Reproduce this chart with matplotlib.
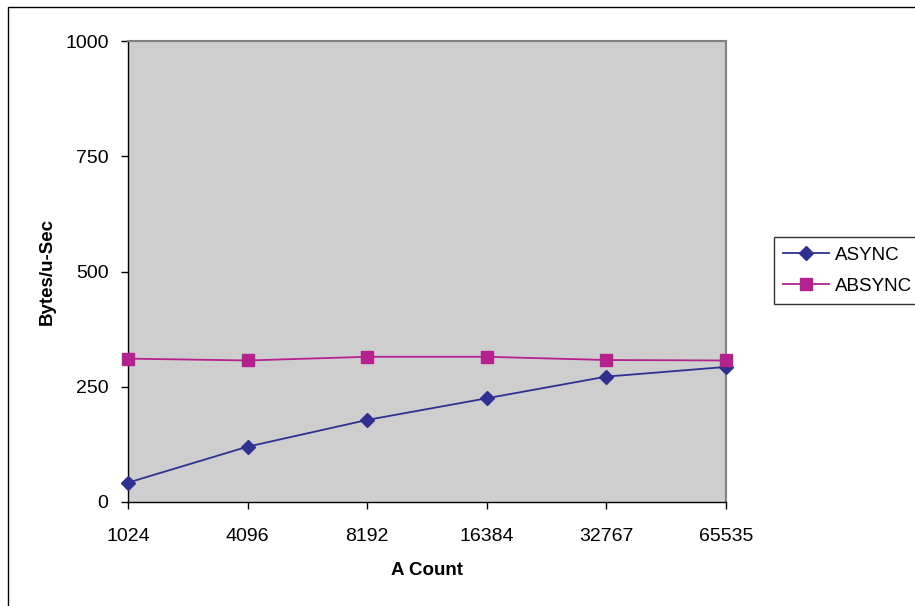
import matplotlib
matplotlib.use("Agg")
import matplotlib.pyplot as plt
from matplotlib.patches import Rectangle
from matplotlib.lines import Line2D

plt.rcParams['font.family'] = ['Liberation Sans', 'DejaVu Sans']

categories = ["1024", "4096", "8192", "16384", "32767", "65535"]
async_vals = [42, 120, 178, 225, 272, 293]
absync_vals = [311, 307, 315, 315, 308, 307]
y_ticks = [0, 250, 500, 750, 1000]

W, H = 915, 606
fig = plt.figure(figsize=(W / 100, H / 100), dpi=100)

# outer chart border
fig.patches.append(Rectangle((8 / W, -0.1), 1.2, 1 - 7 / H + 0.1,
                             transform=fig.transFigure, fill=False,
                             edgecolor='black', linewidth=1.0, zorder=0))

ax = fig.add_axes([128 / W, 1 - 502 / H, (726 - 128) / W, (502 - 41) / H])
ax.set_facecolor('#CECECE')

x = list(range(len(categories)))
ax.plot(x, async_vals, color='#2E3192', linewidth=1.3, marker='D',
        markersize=7, label='ASYNC', clip_on=False, zorder=3)
ax.plot(x, absync_vals, color='#B5218E', linewidth=1.3, marker='s',
        markersize=8, label='ABSYNC', clip_on=False, zorder=3)

ax.set_xlim(0, len(categories) - 1)
ax.set_ylim(0, 1000)
ax.set_xticks(x)
ax.set_xticklabels(categories)
ax.set_yticks(y_ticks)

ax.tick_params(axis='both', direction='out', length=5, width=1.0,
               colors='black', labelsize=14)
ax.tick_params(axis='y', pad=9)
ax.tick_params(axis='x', pad=14)

for side in ('left', 'bottom'):
    ax.spines[side].set_color('black')
    ax.spines[side].set_linewidth(1.0)
for side in ('top', 'right'):
    ax.spines[side].set_color('#808080')
    ax.spines[side].set_linewidth(1.5)

ax.set_xlabel('A Count', fontsize=13.5, fontweight='bold', labelpad=12)
ax.set_ylabel('Bytes/u-Sec', fontsize=13.5, fontweight='bold', labelpad=7)

handles = [
    Line2D([], [], color='#2E3192', linewidth=1.3, marker='D', markersize=7),
    Line2D([], [], color='#B5218E', linewidth=1.3, marker='s', markersize=8),
]
leg = fig.legend(handles, ['ASYNC', 'ABSYNC'], loc='upper left',
                 bbox_to_anchor=(774 / W, 1 - 237 / H),
                 fontsize=13.5, frameon=True, fancybox=False,
                 edgecolor='black', borderpad=0.5, handlelength=2.45,
                 handletextpad=0.3, labelspacing=0.75, borderaxespad=0)
leg.get_frame().set_linewidth(1.0)

fig.savefig('out.png', dpi=100)
